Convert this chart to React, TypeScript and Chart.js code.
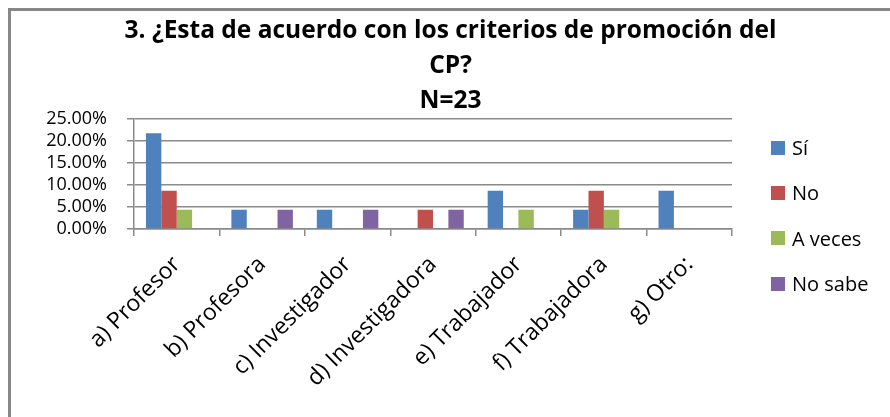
import React, { useEffect, useRef } from "react";
import { Chart, registerables } from "chart.js";

Chart.register(...registerables);

const titleLines = ["3. ¿Esta de acuerdo con los criterios de promoción del", "CP?", "N=23"];
const categories = ["a) Profesor", "b) Profesora", "c) Investigador", "d) Investigadora", "e) Trabajador", "f) Trabajadora", "g) Otro:"];
const seriesNames = ["Sí", "No", "A veces", "No sabe"];
const si = [21.74, 4.35, 4.35, 0, 8.7, 4.35, 8.7];
const no = [8.7, 0, 0, 4.35, 0, 8.7, 0];
const aVeces = [4.35, 0, 0, 0, 4.35, 4.35, 0];
const noSabe = [0, 4.35, 4.35, 4.35, 0, 0, 0];
const colors = ["#4F81BD", "#C0504D", "#9BBB59", "#8064A2"];
const yMax = 25;
const yStep = 5;

const FONT = "'Open Sans', 'Noto Sans', sans-serif";
const GRID = "#8a8a8a";

export default function App() {
  const ref = useRef<HTMLCanvasElement>(null);
  useEffect(() => {
    if (!ref.current) return;
    const values = [si, no, aVeces, noSabe];
    const chart = new Chart(ref.current, {
      type: "bar",
      data: {
        labels: categories,
        datasets: seriesNames.map((name, i) => ({
          label: name,
          data: values[i],
          backgroundColor: colors[i],
          borderWidth: 0,
          barPercentage: 1,
          categoryPercentage: 0.72,
        })),
      },
      options: {
        animation: false,
        responsive: false,
        devicePixelRatio: 1,
        layout: { padding: { left: 0, right: 0, top: 0, bottom: 0 } },
        plugins: {
          title: {
            display: true,
            text: titleLines,
            color: "#000",
            fullSize: true,
            font: { family: FONT, size: 24.5, weight: "bold", lineHeight: 1.44 },
            padding: { top: 2, bottom: 0 },
          },
          legend: { display: false },
          tooltip: { enabled: false },
        },
        scales: {
          x: {
            offset: true,
            grid: { display: true, drawOnChartArea: false, drawTicks: true, tickLength: 7, color: GRID, lineWidth: 1.5 },
            border: { display: true, color: GRID, width: 1.5 },
            ticks: {
              color: "#000",
              font: { family: FONT, size: 23 },
              maxRotation: 45,
              minRotation: 45,
              padding: 15,
              autoSkip: false,
            },
            afterFit: (s: any) => {
              s.height = 188;
            },
          },
          y: {
            min: 0,
            max: yMax,
            grid: { color: GRID, lineWidth: 1.5, tickLength: 7 },
            border: { display: true, color: GRID, width: 1.5 },
            ticks: {
              stepSize: yStep,
              autoSkip: false,
              color: "#000",
              font: { family: FONT, size: 18 },
              padding: 20,
              callback: (v: any) => Number(v).toFixed(2) + "%",
            },
            afterFit: (s: any) => {
              s.width = 123;
            },
          },
          legendSpace: {
            type: "linear",
            position: "right",
            display: true,
            grid: { display: false },
            border: { display: false },
            ticks: { display: false },
            afterFit: (s: any) => {
              s.width = 158;
            },
          },
        },
      } as any,
    });
    return () => chart.destroy();
  }, []);
  return (
    <div
      style={{
        position: "absolute",
        left: 8,
        top: 8,
        width: 882,
        height: 409,
        boxSizing: "border-box",
        borderTop: "3px solid #878787",
        borderLeft: "3px solid #878787",
        background: "#fff",
        overflow: "hidden",
      }}
    >
      <canvas ref={ref} width={879} height={406} style={{ display: "block" }} />
      <div style={{ position: "absolute", left: 760, top: 114, fontFamily: FONT, fontSize: 20, color: "#000" }}>
        {seriesNames.map((name, i) => (
          <div key={name} style={{ height: 45.3, display: "flex", alignItems: "center" }}>
            <span style={{ width: 14, height: 14, background: colors[i], display: "inline-block", marginRight: 7 }} />
            <span>{name}</span>
          </div>
        ))}
      </div>
    </div>
  );
}
